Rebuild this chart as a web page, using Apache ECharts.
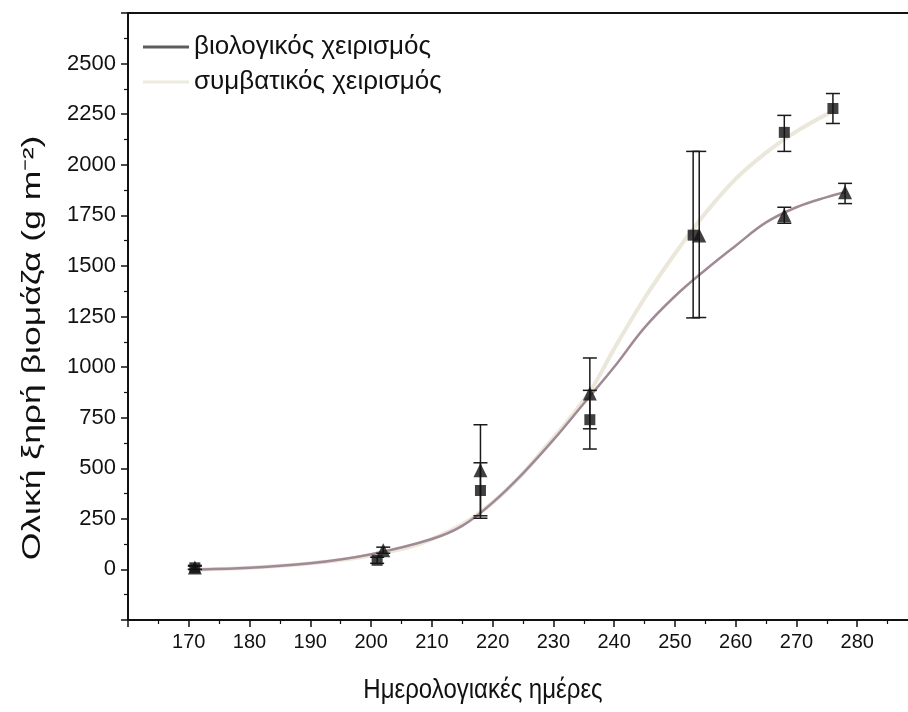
<!DOCTYPE html>
<html>
<head>
<meta charset="utf-8">
<script src="https://cdn.jsdelivr.net/npm/echarts@6/dist/echarts.min.js"></script>
<style>
html,body{margin:0;padding:0;background:#fff;}
#c{width:908px;height:712px;}
</style>
</head>
<body>
<div id="c"></div>
<script>
// ---- data ----
const seriesNames = ['βιολογικός χειρισμός', 'συμβατικός χειρισμός'];
const xAxisTitle = 'Ημερολογιακές ημέρες';
const yAxisTitle = 'Ολική ξηρή βιομάζα (g m⁻²)';

// βιολογικός (triangles)
const bioDays = [171, 202, 218, 236, 254, 268, 278];
const bioMean = [10, 95, 490, 870, 1650, 1750, 1864];
const bioLow  = [0, 80, 265, 695, 1245, 1711, 1808];
const bioHigh = [20, 110, 715, 1045, 2066, 1790, 1908];

// συμβατικός (squares)
const convDays = [171, 201, 218, 236, 253, 268, 276];
const convMean = [8, 45, 390, 740, 1652, 2160, 2278];
const convLow  = [0, 30, 253, 595, 1243, 2066, 2204];
const convHigh = [16, 60, 527, 885, 2066, 2244, 2352];

// fitted curves
const bioCurveDays = [172, 180, 190, 200, 210, 215, 220, 225, 230, 235, 240, 245, 250, 255, 260, 265, 270, 275, 278];
const bioCurveVals = [0, 8, 30, 75, 150, 215, 330, 475, 640, 820, 1000, 1195, 1350, 1480, 1600, 1715, 1790, 1840, 1864];
const convCurveDays = [172, 180, 190, 200, 210, 220, 230, 236, 240, 245, 250, 255, 260, 265, 270, 276];
const convCurveVals = [0, 8, 30, 70, 150, 330, 650, 880, 1090, 1340, 1560, 1760, 1930, 2060, 2165, 2265];

const xTicksHidden = [160, 290];
const yTicksHidden = [-250, 2750];

const chart = echarts.init(document.getElementById('c'), null, {renderer: 'canvas'});

function errorBars(name, days, low, high) {
  return {
    type: 'custom',
    name: name + ' err',
    silent: true,
    z: 4,
    data: days.map((d, i) => [d, low[i], high[i]]),
    encode: {x: 0, y: [1, 2]},
    renderItem: function (params, api) {
      const x = api.value(0);
      const lo = api.coord([x, api.value(1)]);
      const hi = api.coord([x, api.value(2)]);
      const w = 7;
      const st = {stroke: '#1a1a1a', lineWidth: 1.5};
      return {
        type: 'group',
        children: [
          {type: 'line', shape: {x1: lo[0], y1: lo[1], x2: hi[0], y2: hi[1]}, style: st},
          {type: 'line', shape: {x1: lo[0] - w, y1: lo[1], x2: lo[0] + w, y2: lo[1]}, style: st},
          {type: 'line', shape: {x1: hi[0] - w, y1: hi[1], x2: hi[0] + w, y2: hi[1]}, style: st}
        ]
      };
    }
  };
}

const font = 'Liberation Sans, Arial, sans-serif';
const axisCommon = {
  axisLine: {show: true, onZero: false, lineStyle: {color: '#111', width: 2}},
  axisTick: {show: true, inside: false, length: 7, lineStyle: {color: '#111', width: 1.5}},
  minorTick: {show: true, splitNumber: 2, length: 4, lineStyle: {color: '#111', width: 1.2}},
  splitLine: {show: false}
};

chart.setOption({
  backgroundColor: '#ffffff',
  animation: false,
  grid: {
    left: 128, top: 13, width: 790, height: 607,
    outerBoundsMode: 'none', containLabel: false,
    show: false
  },
  legend: {
    data: [
      {name: seriesNames[0], itemStyle: {color: '#5c5c5c'}},
      {name: seriesNames[1], itemStyle: {color: '#ecebdc'}}
    ],
    orient: 'vertical',
    left: 138, top: 29,
    icon: 'rect',
    itemWidth: 46, itemHeight: 3, itemGap: 9,
    textStyle: {fontFamily: font, fontSize: 26, color: '#111'}
  },
  xAxis: [
    Object.assign({
      type: 'value', min: 160, max: 290, interval: 10, position: 'bottom',
      axisLabel: {
        margin: 12, fontFamily: font, fontSize: 20, color: '#111',
        formatter: v => xTicksHidden.includes(v) ? '' : String(v)
      }
    }, axisCommon),
    {
      type: 'value', min: 160, max: 290, interval: 10, position: 'top',
      axisLine: {show: true, onZero: false, lineStyle: {color: '#111', width: 2}},
      axisTick: {show: false}, axisLabel: {show: false}, splitLine: {show: false}
    }
  ],
  yAxis: Object.assign({
    type: 'value', min: -250, max: 2750, interval: 250,
    axisLabel: {
      margin: 12, fontFamily: font, fontSize: 22, color: '#111',
      formatter: v => yTicksHidden.includes(v) ? '' : String(v)
    }
  }, axisCommon),
  graphic: [
    {
      type: 'text', x: 483, y: 690, scaleY: 1.15,
      style: {text: xAxisTitle, font: '24px ' + font, fill: '#111', align: 'center', verticalAlign: 'middle'}
    },
    {
      type: 'text', x: 33, y: 348, rotation: Math.PI / 2, scaleX: 1.42,
      style: {text: yAxisTitle, font: '25px ' + font, fill: '#111', align: 'center', verticalAlign: 'middle'}
    }
  ],
  series: [
    {
      name: seriesNames[1], type: 'line', smooth: 0.4, showSymbol: false, z: 1,
      data: convCurveDays.map((d, i) => [d, convCurveVals[i]]),
      lineStyle: {color: '#ebe7da', width: 4},
      itemStyle: {color: '#ebe7da'}
    },
    {
      name: seriesNames[0], type: 'line', smooth: 0.4, showSymbol: false, z: 2,
      data: bioCurveDays.map((d, i) => [d, bioCurveVals[i]]),
      lineStyle: {color: '#a08a95', width: 2.5},
      itemStyle: {color: '#a08a95'}
    },
    errorBars(seriesNames[0], bioDays, bioLow, bioHigh),
    errorBars(seriesNames[1], convDays, convLow, convHigh),
    {
      name: seriesNames[1] + ' pts', type: 'scatter', symbol: 'rect', symbolSize: 11, z: 5,
      data: convDays.map((d, i) => [d, convMean[i]]),
      itemStyle: {color: '#111'}
    },
    {
      name: seriesNames[0] + ' pts', type: 'scatter', symbol: 'triangle', symbolSize: 14, z: 6,
      data: bioDays.map((d, i) => [d, bioMean[i]]),
      itemStyle: {color: '#111'}
    }
  ]
});
</script>
</body>
</html>
